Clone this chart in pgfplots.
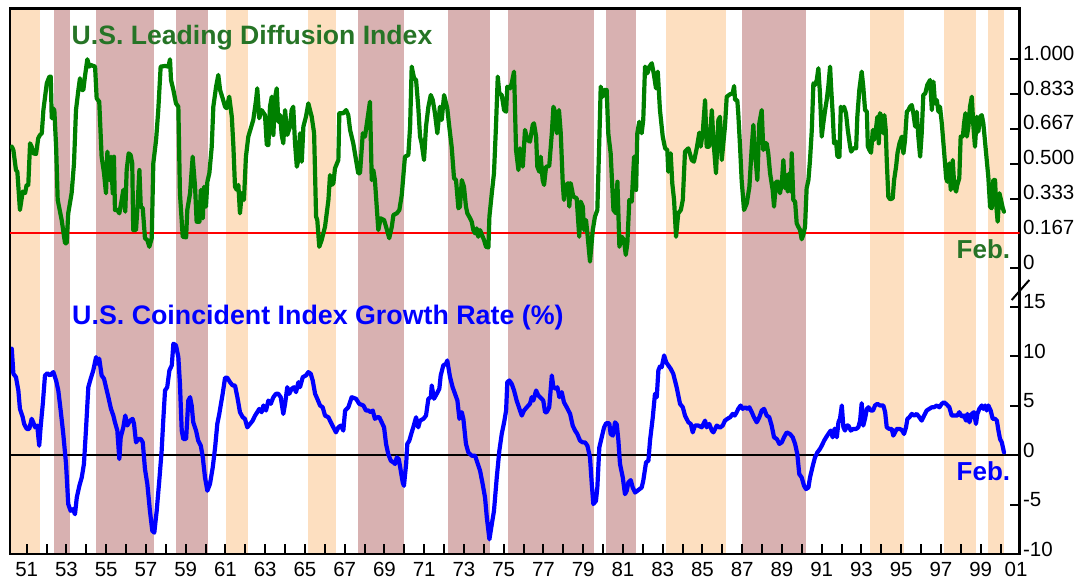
\documentclass[border=0pt]{standalone}
\usepackage{fontspec}
\setmainfont{Liberation Sans}
\usepackage{pgfplots}
\usepackage{pgfplotstable}
\pgfplotsset{compat=1.18}

\definecolor{tanband}{RGB}{253,223,192}
\definecolor{roseband}{RGB}{216,177,177}
\definecolor{leadgreen}{RGB}{0,128,0}
\definecolor{titlegreen}{RGB}{38,116,38}
\definecolor{cblue}{RGB}{0,0,255}

\pgfplotstableread{
x y
1950.25 0.582
1950.33 0.566
1950.46 0.470
1950.53 0.462
1950.66 0.279
1950.80 0.367
1950.92 0.360
1951.00 0.399
1951.08 0.399
1951.17 0.598
1951.25 0.582
1951.33 0.550
1951.47 0.547
1951.58 0.622
1951.67 0.638
1951.76 0.646
1951.84 0.757
1952.01 0.885
1952.14 0.917
1952.21 0.917
1952.26 0.718
1952.31 0.766
1952.39 0.757
1952.48 0.582
1952.56 0.327
1952.76 0.231
1952.93 0.120
1953.01 0.120
1953.09 0.263
1953.26 0.359
1953.38 0.502
1953.48 0.757
1953.60 0.853
1953.68 0.909
1953.77 0.853
1953.85 0.853
1953.93 0.917
1954.05 1.000
1954.15 0.965
1954.22 0.973
1954.44 0.965
1954.52 0.813
1954.65 0.797
1954.77 0.534
1954.89 0.455
1954.99 0.359
1955.06 0.558
1955.16 0.422
1955.24 0.534
1955.33 0.359
1955.39 0.534
1955.44 0.279
1955.56 0.279
1955.66 0.263
1955.78 0.327
1955.86 0.375
1955.96 0.271
1956.03 0.470
1956.13 0.550
1956.23 0.542
1956.31 0.502
1956.36 0.183
1956.50 0.183
1956.57 0.287
1956.67 0.470
1956.74 0.295
1956.84 0.287
1956.95 0.144
1957.07 0.135
1957.17 0.103
1957.29 0.144
1957.37 0.502
1957.51 0.614
1957.62 0.757
1957.74 0.965
1957.96 0.968
1958.13 0.965
1958.21 1.000
1958.26 0.901
1958.38 0.853
1958.51 0.789
1958.63 0.773
1958.71 0.359
1958.85 0.151
1959.02 0.148
1959.08 0.279
1959.22 0.359
1959.35 0.534
1959.47 0.390
1959.55 0.223
1959.69 0.223
1959.76 0.375
1959.86 0.239
1959.92 0.390
1960.02 0.295
1960.09 0.414
1960.19 0.455
1960.31 0.582
1960.39 0.773
1960.53 0.869
1960.64 0.925
1960.73 0.853
1960.86 0.813
1960.98 0.773
1961.06 0.766
1961.19 0.821
1961.32 0.725
1961.40 0.582
1961.48 0.390
1961.57 0.375
1961.65 0.399
1961.73 0.263
1961.82 0.359
1961.93 0.327
1962.03 0.534
1962.15 0.630
1962.40 0.710
1962.54 0.805
1962.60 0.861
1962.70 0.718
1962.82 0.757
1962.99 0.733
1963.08 0.590
1963.16 0.590
1963.24 0.773
1963.33 0.821
1963.41 0.638
1963.49 0.813
1963.58 0.861
1963.66 0.701
1963.75 0.733
1963.83 0.638
1963.91 0.598
1964.00 0.757
1964.11 0.638
1964.25 0.678
1964.33 0.757
1964.41 0.773
1964.50 0.598
1964.59 0.486
1964.67 0.518
1964.75 0.646
1964.84 0.510
1964.92 0.678
1965.05 0.725
1965.17 0.789
1965.34 0.725
1965.46 0.646
1965.56 0.247
1965.62 0.231
1965.72 0.103
1965.84 0.135
1966.01 0.199
1966.18 0.327
1966.26 0.446
1966.35 0.399
1966.43 0.407
1966.51 0.478
1966.68 0.518
1966.73 0.742
1966.93 0.742
1967.07 0.757
1967.18 0.733
1967.27 0.662
1967.43 0.598
1967.57 0.518
1967.68 0.455
1967.77 0.455
1967.91 0.646
1968.02 0.630
1968.14 0.710
1968.27 0.797
1968.36 0.422
1968.44 0.470
1968.52 0.422
1968.69 0.183
1968.81 0.239
1968.98 0.231
1969.08 0.199
1969.24 0.144
1969.37 0.199
1969.45 0.255
1969.62 0.263
1969.75 0.279
1969.87 0.351
1970.03 0.534
1970.20 0.542
1970.29 0.678
1970.37 0.965
1970.49 0.909
1970.59 0.901
1970.70 0.773
1970.79 0.630
1970.87 0.598
1970.99 0.518
1971.09 0.678
1971.21 0.773
1971.33 0.829
1971.43 0.805
1971.54 0.742
1971.66 0.646
1971.79 0.773
1971.88 0.710
1972.00 0.829
1972.10 0.789
1972.16 0.766
1972.26 0.678
1972.38 0.582
1972.50 0.431
1972.60 0.422
1972.72 0.287
1972.80 0.295
1972.89 0.422
1973.00 0.390
1973.10 0.295
1973.17 0.263
1973.31 0.239
1973.39 0.223
1973.47 0.183
1973.56 0.167
1973.64 0.191
1973.72 0.151
1973.81 0.183
1973.91 0.159
1974.01 0.135
1974.11 0.103
1974.23 0.100
1974.28 0.247
1974.40 0.359
1974.51 0.455
1974.61 0.678
1974.70 0.917
1974.78 0.837
1974.90 0.829
1975.02 0.757
1975.12 0.749
1975.18 0.869
1975.32 0.861
1975.40 0.885
1975.52 0.941
1975.62 0.566
1975.74 0.470
1975.82 0.574
1975.96 0.486
1976.07 0.662
1976.19 0.614
1976.32 0.606
1976.46 0.686
1976.52 0.694
1976.63 0.630
1976.69 0.486
1976.79 0.462
1976.86 0.534
1976.96 0.422
1977.03 0.399
1977.13 0.486
1977.29 0.489
1977.42 0.646
1977.50 0.773
1977.58 0.749
1977.67 0.646
1977.78 0.757
1977.87 0.646
1977.97 0.407
1978.03 0.327
1978.13 0.399
1978.25 0.407
1978.30 0.295
1978.37 0.407
1978.50 0.343
1978.67 0.335
1978.80 0.151
1978.87 0.319
1978.98 0.295
1979.04 0.183
1979.14 0.231
1979.21 0.167
1979.34 0.032
1979.48 0.183
1979.59 0.247
1979.71 0.279
1979.81 0.614
1979.88 0.869
1979.98 0.821
1980.05 0.853
1980.18 0.853
1980.26 0.646
1980.38 0.550
1980.52 0.279
1980.65 0.263
1980.72 0.414
1980.82 0.103
1980.94 0.151
1981.05 0.135
1981.14 0.064
1981.22 0.120
1981.32 0.327
1981.44 0.319
1981.56 0.534
1981.66 0.375
1981.72 0.646
1981.82 0.701
1981.94 0.646
1982.02 0.710
1982.11 0.965
1982.23 0.933
1982.33 0.965
1982.45 0.981
1982.56 0.925
1982.66 0.861
1982.75 0.941
1982.86 0.757
1983.00 0.630
1983.12 0.574
1983.23 0.566
1983.28 0.462
1983.40 0.550
1983.48 0.407
1983.57 0.327
1983.67 0.151
1983.78 0.263
1983.91 0.279
1984.01 0.327
1984.12 0.558
1984.29 0.574
1984.46 0.518
1984.57 0.510
1984.71 0.574
1984.84 0.649
1984.91 0.582
1985.01 0.646
1985.13 0.805
1985.21 0.582
1985.34 0.582
1985.47 0.757
1985.55 0.614
1985.68 0.455
1985.80 0.710
1985.88 0.725
1985.97 0.518
1986.13 0.678
1986.22 0.821
1986.39 0.833
1986.52 0.837
1986.59 0.872
1986.64 0.805
1986.75 0.805
1986.80 0.742
1986.89 0.582
1986.97 0.422
1987.09 0.279
1987.23 0.311
1987.36 0.390
1987.48 0.582
1987.56 0.686
1987.61 0.582
1987.69 0.502
1987.76 0.422
1987.86 0.694
1987.98 0.757
1988.06 0.566
1988.15 0.598
1988.23 0.598
1988.31 0.550
1988.40 0.455
1988.53 0.375
1988.60 0.295
1988.70 0.414
1988.82 0.414
1988.90 0.359
1988.99 0.407
1989.07 0.518
1989.15 0.383
1989.24 0.446
1989.29 0.367
1989.37 0.455
1989.44 0.367
1989.49 0.550
1989.57 0.327
1989.66 0.319
1989.74 0.215
1989.82 0.199
1989.91 0.183
1989.99 0.139
1990.07 0.159
1990.16 0.199
1990.24 0.383
1990.33 0.422
1990.41 0.518
1990.50 0.662
1990.58 0.885
1990.66 0.877
1990.75 0.901
1990.83 0.957
1990.91 0.837
1991.00 0.630
1991.08 0.694
1991.17 0.757
1991.25 0.805
1991.33 0.869
1991.42 0.965
1991.47 0.869
1991.55 0.742
1991.62 0.598
1991.72 0.606
1991.79 0.534
1991.89 0.534
1991.96 0.773
1992.06 0.757
1992.12 0.773
1992.22 0.742
1992.31 0.662
1992.43 0.582
1992.48 0.558
1992.59 0.574
1992.73 0.574
1992.79 0.725
1992.89 0.853
1993.01 0.941
1993.09 0.869
1993.18 0.757
1993.27 0.749
1993.32 0.582
1993.40 0.566
1993.48 0.553
1993.57 0.662
1993.63 0.614
1993.72 0.662
1993.80 0.725
1993.87 0.598
1993.93 0.742
1994.02 0.725
1994.10 0.646
1994.15 0.733
1994.22 0.662
1994.27 0.518
1994.35 0.343
1994.44 0.330
1994.57 0.335
1994.64 0.422
1994.74 0.486
1994.81 0.550
1994.91 0.598
1995.03 0.630
1995.11 0.550
1995.19 0.614
1995.28 0.749
1995.36 0.757
1995.44 0.773
1995.53 0.781
1995.61 0.742
1995.70 0.678
1995.78 0.749
1995.86 0.630
1995.95 0.534
1996.03 0.646
1996.11 0.829
1996.21 0.837
1996.31 0.877
1996.45 0.901
1996.54 0.757
1996.62 0.893
1996.70 0.789
1996.79 0.805
1996.87 0.749
1996.95 0.773
1997.04 0.694
1997.15 0.566
1997.26 0.431
1997.32 0.414
1997.42 0.502
1997.49 0.375
1997.59 0.518
1997.67 0.390
1997.76 0.367
1997.82 0.399
1997.92 0.431
1997.99 0.630
1998.10 0.630
1998.16 0.694
1998.23 0.742
1998.30 0.630
1998.38 0.678
1998.46 0.773
1998.55 0.821
1998.63 0.678
1998.71 0.582
1998.80 0.725
1998.88 0.654
1998.97 0.725
1999.05 0.733
1999.13 0.694
1999.27 0.550
1999.38 0.438
1999.47 0.295
1999.55 0.287
1999.63 0.422
1999.72 0.422
1999.77 0.311
1999.85 0.223
1999.94 0.359
2000.02 0.327
2000.11 0.287
2000.17 0.271
}\leadtab

\pgfplotstableread{
x y
1950.25 10.78
1950.33 8.24
1950.46 7.90
1950.58 6.55
1950.66 4.69
1950.80 3.84
1950.87 3.17
1951.00 2.66
1951.13 2.66
1951.25 3.68
1951.33 3.33
1951.42 2.82
1951.53 3.00
1951.63 0.96
1951.70 2.82
1951.81 5.20
1951.92 8.07
1952.04 8.30
1952.17 8.07
1952.34 8.41
1952.48 7.56
1952.59 6.55
1952.71 4.52
1952.84 2.15
1952.98 -0.89
1953.09 -4.95
1953.21 -5.63
1953.32 -5.46
1953.43 -5.97
1953.52 -4.28
1953.65 -3.10
1953.77 -2.25
1953.88 -0.89
1953.98 2.49
1954.10 6.88
1954.22 7.74
1954.35 8.58
1954.49 9.93
1954.55 9.26
1954.65 9.77
1954.77 8.07
1954.89 7.74
1954.99 6.88
1955.11 5.87
1955.24 4.69
1955.36 4.01
1955.44 3.33
1955.56 2.49
1955.66 -0.39
1955.73 1.81
1955.86 2.82
1955.96 4.01
1956.06 3.00
1956.20 3.50
1956.33 3.68
1956.40 3.17
1956.50 1.30
1956.62 1.64
1956.74 1.64
1956.84 1.30
1956.95 -1.40
1957.07 -2.92
1957.20 -5.63
1957.32 -7.66
1957.42 -7.84
1957.54 -5.63
1957.67 -2.59
1957.79 0.46
1957.87 3.50
1957.96 6.55
1958.07 6.88
1958.18 8.58
1958.30 9.09
1958.38 11.29
1958.51 11.12
1958.63 9.93
1958.71 7.23
1958.80 2.49
1958.88 1.64
1959.02 1.64
1959.13 5.53
1959.22 5.87
1959.30 5.03
1959.38 3.33
1959.52 2.49
1959.63 1.47
1959.76 0.96
1959.86 -0.22
1959.97 -2.25
1960.09 -3.60
1960.22 -2.92
1960.36 -1.24
1960.48 0.79
1960.59 3.17
1960.69 4.18
1960.76 5.03
1960.86 6.21
1960.98 7.84
1961.09 7.84
1961.23 7.39
1961.36 7.06
1961.48 7.06
1961.60 5.87
1961.73 4.35
1961.87 3.84
1961.98 3.68
1962.10 2.82
1962.24 3.17
1962.37 3.50
1962.49 4.01
1962.60 4.35
1962.70 4.69
1962.82 4.35
1962.91 5.03
1963.04 4.52
1963.16 5.53
1963.28 5.20
1963.41 5.87
1963.54 6.21
1963.66 6.21
1963.78 5.87
1963.91 4.18
1964.00 5.20
1964.11 6.88
1964.21 6.21
1964.33 6.72
1964.45 6.88
1964.55 6.38
1964.67 7.39
1964.75 6.88
1964.89 7.90
1965.05 8.07
1965.17 8.41
1965.29 8.24
1965.39 7.56
1965.51 6.21
1965.62 5.71
1965.76 5.03
1965.89 4.85
1966.01 4.01
1966.18 3.84
1966.30 3.33
1966.43 2.82
1966.56 2.31
1966.68 2.82
1966.80 3.00
1966.93 2.49
1967.02 4.52
1967.18 4.85
1967.35 5.87
1967.57 5.71
1967.73 5.20
1967.94 5.03
1968.07 4.52
1968.19 4.52
1968.31 4.35
1968.41 4.52
1968.52 3.68
1968.64 3.84
1968.74 3.84
1968.86 3.33
1968.98 2.82
1969.08 1.14
1969.19 0.12
1969.32 -0.56
1969.45 -0.73
1969.53 -0.89
1969.62 -0.22
1969.72 -0.39
1969.82 -1.57
1969.92 -2.76
1969.98 -3.10
1970.09 -0.89
1970.15 1.14
1970.25 1.47
1970.37 2.31
1970.45 2.82
1970.59 3.84
1970.70 2.82
1970.79 3.50
1970.96 3.68
1971.09 4.01
1971.21 5.71
1971.33 5.87
1971.38 7.06
1971.49 5.71
1971.63 6.21
1971.76 6.72
1971.83 8.07
1971.96 9.09
1972.10 9.26
1972.16 9.59
1972.30 7.90
1972.43 6.88
1972.55 6.21
1972.67 5.53
1972.77 3.68
1972.89 4.35
1972.97 3.68
1973.10 1.14
1973.22 0.28
1973.39 -0.05
1973.56 -0.05
1973.67 -0.73
1973.81 -1.57
1973.94 -2.92
1974.06 -4.28
1974.15 -6.31
1974.28 -8.51
1974.40 -6.98
1974.51 -5.63
1974.65 -2.25
1974.78 0.46
1974.90 2.15
1975.02 3.33
1975.12 4.52
1975.18 7.39
1975.28 7.56
1975.40 7.23
1975.52 6.55
1975.65 5.53
1975.79 4.69
1975.91 4.01
1976.02 4.52
1976.16 4.85
1976.32 5.20
1976.41 5.87
1976.49 5.53
1976.63 6.55
1976.74 6.04
1976.91 5.71
1976.99 5.53
1977.08 4.35
1977.16 4.35
1977.29 4.85
1977.42 8.07
1977.50 6.88
1977.63 6.72
1977.70 6.88
1977.80 5.87
1977.92 6.38
1978.03 5.36
1978.17 4.85
1978.34 4.18
1978.47 3.00
1978.59 2.49
1978.70 2.15
1978.84 1.47
1978.97 1.30
1979.09 1.30
1979.21 0.96
1979.34 -0.22
1979.43 -2.92
1979.51 -4.95
1979.64 -4.62
1979.71 -3.27
1979.81 0.79
1979.93 1.81
1980.05 2.82
1980.15 3.23
1980.31 3.23
1980.38 2.15
1980.49 1.98
1980.60 3.33
1980.69 3.10
1980.77 1.47
1980.85 -0.89
1980.99 -2.25
1981.10 -3.94
1981.19 -3.60
1981.27 -2.76
1981.39 -2.52
1981.49 -3.27
1981.61 -3.78
1981.77 -3.53
1981.94 -3.27
1982.02 -2.59
1982.16 -0.73
1982.28 -0.56
1982.36 1.47
1982.50 3.84
1982.61 6.21
1982.70 5.87
1982.78 8.58
1982.86 8.98
1982.95 8.91
1983.07 10.10
1983.17 9.42
1983.28 9.09
1983.40 8.75
1983.53 8.24
1983.70 6.88
1983.87 5.20
1984.01 4.85
1984.12 4.01
1984.29 3.33
1984.41 3.17
1984.51 2.31
1984.62 3.00
1984.79 3.00
1984.96 2.82
1985.13 3.50
1985.21 2.82
1985.34 3.17
1985.47 2.49
1985.55 2.31
1985.72 3.00
1985.88 2.79
1986.02 3.00
1986.13 3.50
1986.25 3.68
1986.39 3.84
1986.52 4.18
1986.62 4.01
1986.72 4.35
1986.80 4.69
1986.92 5.03
1987.02 4.69
1987.14 4.85
1987.26 4.69
1987.36 4.85
1987.48 4.35
1987.59 3.84
1987.73 3.33
1987.86 3.84
1987.98 4.52
1988.10 4.69
1988.23 4.01
1988.36 3.84
1988.48 3.00
1988.60 1.81
1988.74 1.64
1988.87 1.14
1988.99 1.30
1989.10 1.81
1989.24 2.31
1989.40 2.15
1989.54 1.81
1989.66 1.14
1989.77 0.12
1989.87 -1.91
1989.99 -2.25
1990.11 -3.10
1990.21 -3.43
1990.33 -3.27
1990.41 -2.25
1990.55 -1.07
1990.66 -0.22
1990.78 0.28
1990.91 0.63
1991.00 0.96
1991.12 1.47
1991.22 1.81
1991.33 2.15
1991.45 2.49
1991.55 1.81
1991.65 2.69
1991.76 1.81
1991.84 3.33
1991.92 3.71
1992.01 5.03
1992.09 2.82
1992.17 2.49
1992.26 3.00
1992.34 3.00
1992.46 2.49
1992.59 2.66
1992.73 2.66
1992.84 2.82
1992.93 3.50
1993.01 5.26
1993.09 3.00
1993.18 3.71
1993.27 4.69
1993.35 4.85
1993.47 4.52
1993.58 4.52
1993.68 5.03
1993.80 5.20
1993.93 5.03
1994.10 5.03
1994.19 4.35
1994.27 2.82
1994.40 2.66
1994.52 2.66
1994.60 1.98
1994.69 2.31
1994.77 2.66
1994.91 2.66
1995.03 2.56
1995.14 2.15
1995.24 2.82
1995.31 3.68
1995.41 3.84
1995.53 4.18
1995.65 4.01
1995.78 4.18
1995.91 3.84
1996.03 3.50
1996.15 4.01
1996.28 4.52
1996.41 4.69
1996.54 4.85
1996.65 4.85
1996.79 5.03
1996.92 4.85
1997.04 5.20
1997.15 5.36
1997.29 5.13
1997.42 4.85
1997.54 4.01
1997.67 4.01
1997.82 4.01
1997.92 4.35
1998.04 3.91
1998.16 4.01
1998.26 3.50
1998.33 4.18
1998.43 3.33
1998.55 4.18
1998.66 4.35
1998.76 3.17
1998.83 4.18
1998.93 4.69
1999.05 5.03
1999.13 4.69
1999.22 5.03
1999.30 4.52
1999.38 5.03
1999.50 4.52
1999.60 3.68
1999.72 3.68
1999.81 3.50
1999.89 2.49
1999.97 1.64
2000.06 1.30
2000.17 0.28
}\coinctab

\newcommand{\band}[3]{\addplot[fill=#1, draw=none, forget plot] coordinates {(#2,-10) (#3,-10) (#3,45.23) (#2,45.23)};}

\begin{document}
\begin{tikzpicture}
\useasboundingbox (-10pt,-30pt) rectangle (1072pt,554pt);
% lower panel, bands and frame
\begin{axis}[
  at={(0pt,0pt)}, anchor=south west,
  scale only axis, width=1009.5pt, height=545.7pt,
  xmin=1950.16, xmax=2000.95, ymin=-10, ymax=45.23,
  axis on top,
  axis line style={line width=2.6pt},
  xtick={1951,1952,...,2000},
  xticklabels={51,,53,,55,,57,,59,,61,,63,,65,,67,,69,,71,,73,,75,,77,,79,,81,,83,,85,,87,,89,,91,,93,,95,,97,,99,},
  minor x tick num=1,
  extra x ticks={2000.78}, extra x tick labels={01},
  extra x tick style={major tick length=0pt},
  ytick={-10,-5,0,5,10,15}, yticklabels={-10,-5,0,5,10,15},
  xtick pos=bottom, ytick pos=right, yticklabel pos=right,
  tick align=inside,
  major tick length=10pt, minor tick length=5.5pt,
  tick style={black, line width=2pt},
  ticklabel style={font=\fontsize{20.5}{24}\selectfont},
  yticklabel style={yshift=5pt},
  xticklabel style={yshift=-4.5pt},
]
\band{tanband}{1950.16}{1951.67}
\band{roseband}{1952.37}{1953.18}
\band{roseband}{1954.49}{1957.40}
\band{roseband}{1958.51}{1960.12}
\band{tanband}{1961.03}{1962.13}
\band{tanband}{1965.15}{1966.56}
\band{roseband}{1967.67}{1969.98}
\band{roseband}{1972.20}{1974.31}
\band{roseband}{1975.22}{1979.54}
\band{roseband}{1980.15}{1981.66}
\band{tanband}{1983.17}{1986.18}
\band{roseband}{1986.99}{1990.21}
\band{tanband}{1993.43}{1995.14}
\band{tanband}{1997.15}{1998.76}
\band{tanband}{1999.37}{2000.17}
\addplot[black, line width=2pt, forget plot] coordinates {(1950.16,0) (2000.95,0)};
\addplot[cblue, line width=4.2pt, line join=round, line cap=round] table[x=x,y=y] {\coinctab};
\end{axis}
% upper panel
\begin{axis}[
  at={(0pt,0pt)}, anchor=south west,
  scale only axis, width=1009.5pt, height=545.7pt,
  xmin=1950.16, xmax=2000.95, ymin=-1.367, ymax=1.244,
  hide x axis,
  axis line style={draw=none},
  ytick={0,0.167,0.333,0.5,0.667,0.833,1},
  yticklabels={0,0.167,0.333,0.500,0.667,0.833,1.000},
  ytick pos=right, yticklabel pos=right,
  tick align=inside,
  major tick length=10pt,
  tick style={black, line width=2pt},
  ticklabel style={font=\fontsize{20.5}{24}\selectfont},
  yticklabel style={yshift=6pt},
]
\addplot[red, line width=2pt, forget plot] coordinates {(1950.16,0.167) (2000.95,0.167)};
\addplot[leadgreen, line width=4.2pt, line join=round, line cap=round] table[x=x,y=y] {\leadtab};
\end{axis}
% titles and notes
\node[anchor=base west, inner sep=0pt, text=titlegreen, font=\fontsize{26.6}{30}\selectfont\bfseries] at (61.5pt,509pt) {U.S. Leading Diffusion Index};
\node[anchor=base west, inner sep=0pt, text=cblue, font=\fontsize{26.8}{30}\selectfont\bfseries] at (62pt,229pt) {U.S. Coincident Index Growth Rate (\%)};
\node[anchor=base west, inner sep=0pt, text=titlegreen, font=\fontsize{26}{30}\selectfont\bfseries] at (946.5pt,295.7pt) {Feb.};
\node[anchor=base west, inner sep=0pt, text=cblue, font=\fontsize{26}{30}\selectfont\bfseries] at (946.5pt,73.3pt) {Feb.};
% axis break mark
\draw[black, line width=2pt] (1001.7pt,254pt) -- (1019.3pt,274pt);
\end{tikzpicture}
\end{document}
